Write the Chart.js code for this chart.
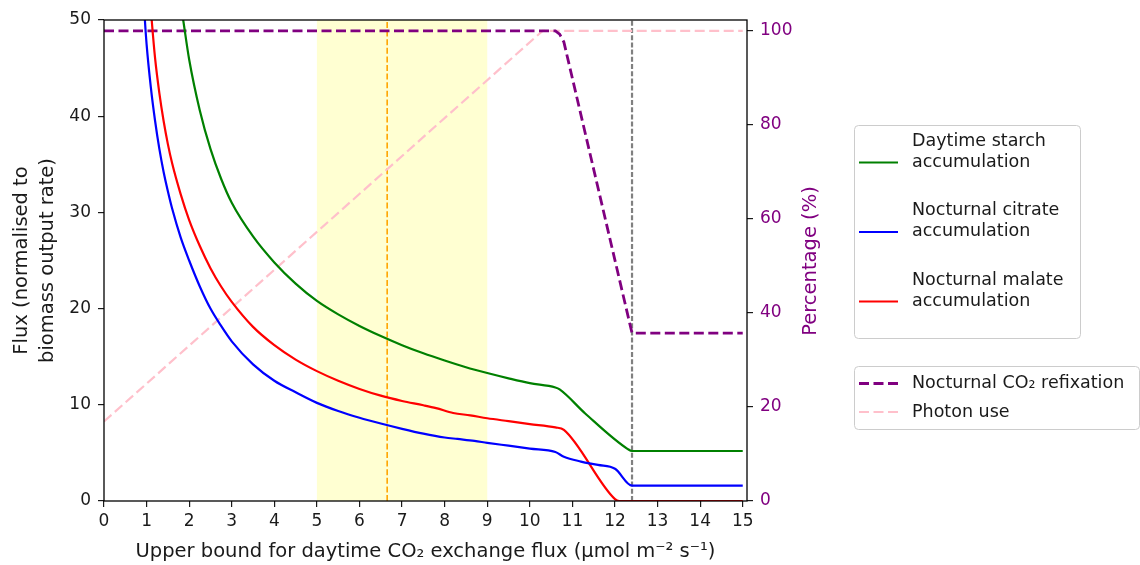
<!DOCTYPE html>
<html>
<head>
<meta charset="utf-8">
<title>CO2 exchange flux bound</title>
<script src="https://cdn.jsdelivr.net/npm/chart.js@4.4.1/dist/chart.umd.min.js"></script>
<style>
  html, body { margin: 0; padding: 0; background: #fff; }
  #wrap { width: 1140px; height: 565px; position: relative; }
</style>
</head>
<body>
<div id="wrap"><canvas id="fluxChart"></canvas></div>
<script>
const FONT = "'DejaVu Sans', sans-serif";
const INK = "#1a1a1a";
const PURPLE = "#800080";

// flux series (left axis), x = upper bound for daytime CO2 exchange
const starchX = [1.75, 1.86, 2.0, 2.25, 2.5, 2.75, 3.0, 3.5, 4.0, 4.5, 5.0, 5.5, 6.0, 6.5, 7.0, 7.5, 8.0, 8.5, 9.0, 9.5, 10.0, 10.6, 10.7, 11.3, 12.3, 12.4, 15];
const starchY = [53.2, 50, 45.9, 40.6, 36.6, 33.5, 31.0, 27.5, 24.8, 22.6, 20.8, 19.4, 18.2, 17.15, 16.2, 15.35, 14.6, 13.9, 13.3, 12.75, 12.25, 11.8, 11.6, 9.1, 5.4, 5.2, 5.2];

const citrateX = [0.9, 0.96, 1.0, 1.1, 1.2, 1.3, 1.4, 1.5, 1.6, 1.8, 2.0, 2.25, 2.5, 2.75, 3.0, 3.5, 4.0, 4.5, 5.0, 5.5, 6.0, 6.5, 7.0, 7.5, 8.0, 8.3, 8.7, 9.0, 9.5, 10.0, 10.6, 10.8, 11.2, 11.6, 12.0, 12.4, 15];
const citrateY = [55, 50, 47.5, 43, 39.5, 36.6, 34.2, 32.2, 30.4, 27.4, 25.0, 22.3, 20.0, 18.2, 16.6, 14.2, 12.5, 11.3, 10.2, 9.35, 8.65, 8.05, 7.5, 7.0, 6.6, 6.45, 6.25, 6.05, 5.75, 5.45, 5.1, 4.6, 4.1, 3.75, 3.35, 1.6, 1.6];

const malateX = [1.0, 1.12, 1.2, 1.3, 1.4, 1.5, 1.6, 1.8, 2.0, 2.25, 2.5, 2.75, 3.0, 3.5, 4.0, 4.5, 5.0, 5.5, 6.0, 6.5, 7.0, 7.5, 7.8, 8.2, 8.6, 9.0, 9.5, 10.0, 10.6, 10.8, 12.0, 12.1, 15];
const malateY = [57, 50, 46.0, 42.4, 39.5, 37.1, 35.1, 31.9, 29.2, 26.5, 24.2, 22.3, 20.7, 18.1, 16.2, 14.7, 13.5, 12.5, 11.65, 10.95, 10.4, 9.95, 9.65, 9.15, 8.9, 8.6, 8.3, 8.0, 7.65, 7.4, 0.2, 0, 0];

// percentage series (right axis)
const refixX = [0, 10.6, 10.7, 10.8, 12.4, 15];
const refixY = [100, 100, 99.3, 97.6, 35.7, 35.7];
const photonX = [0, 10.3, 15];
const photonY = [16.9, 100, 100];

const xTicks = [0, 1, 2, 3, 4, 5, 6, 7, 8, 9, 10, 11, 12, 13, 14, 15];
const fluxTicks = [0, 10, 20, 30, 40, 50];
const pctTicks = [0, 20, 40, 60, 80, 100];

const xRange = [0, 15.1];
const fluxRange = [0, 50];
const pctRange = [0, 102.3];

const shadedBand = [5, 9];
const chosenBound = 6.65;
const limitBound = 12.4;

function pts(xs, ys) {
  return xs.map((x, i) => ({ x: x, y: ys[i] }));
}

function fixedTicks(values) {
  return (scale) => { scale.ticks = values.map((v) => ({ value: v })); };
}

// shaded range and the two vertical markers behind the curves
const markers = {
  id: "markers",
  beforeDatasetsDraw(chart) {
    const { ctx, chartArea: a, scales } = chart;
    const x = scales.x;
    ctx.save();
    ctx.fillStyle = "#ffffd2";
    const b0 = x.getPixelForValue(shadedBand[0]);
    const b1 = x.getPixelForValue(shadedBand[1]);
    ctx.fillRect(b0, a.top, b1 - b0, a.bottom - a.top);

    ctx.lineWidth = 1.6;
    ctx.strokeStyle = "#ffa500";
    ctx.setLineDash([6, 2.6]);
    let px = x.getPixelForValue(chosenBound);
    ctx.beginPath(); ctx.moveTo(px, a.bottom); ctx.lineTo(px, a.top); ctx.stroke();

    ctx.lineWidth = 2.2;
    ctx.strokeStyle = "#808080";
    ctx.setLineDash([5, 2.2]);
    px = x.getPixelForValue(limitBound);
    ctx.beginPath(); ctx.moveTo(px, a.bottom); ctx.lineTo(px, a.top); ctx.stroke();
    ctx.restore();
  },
  afterDatasetsDraw(chart) {
    const { ctx, chartArea: a } = chart;
    ctx.save();
    ctx.strokeStyle = "#000";
    ctx.lineWidth = 1.3;
    ctx.strokeRect(a.left, a.top, a.right - a.left, a.bottom - a.top);
    ctx.restore();
  }
};

// right axis title (reads upwards) and the two legend boxes
const sideText = {
  id: "sideText",
  afterDraw(chart) {
    const ctx = chart.ctx;
    const sets = chart.data.datasets;
    ctx.save();

    ctx.translate(811, 261);
    ctx.rotate(-Math.PI / 2);
    ctx.font = "19.5px " + FONT;
    ctx.fillStyle = PURPLE;
    ctx.textAlign = "center";
    ctx.textBaseline = "middle";
    ctx.fillText("Percentage (%)", 0, 0);
    ctx.setTransform(1, 0, 0, 1, 0, 0);

    const box = (x, y, w, h) => {
      ctx.beginPath();
      ctx.roundRect(x + 0.5, y + 0.5, w, h, 4);
      ctx.fillStyle = "rgba(255,255,255,0.85)";
      ctx.fill();
      ctx.strokeStyle = "#cccccc";
      ctx.lineWidth = 1;
      ctx.setLineDash([]);
      ctx.stroke();
    };
    const handle = (ds, y) => {
      ctx.beginPath();
      ctx.strokeStyle = ds.borderColor;
      ctx.lineWidth = ds.borderWidth;
      ctx.setLineDash(ds.borderDash || []);
      ctx.moveTo(859, y);
      ctx.lineTo(898, y);
      ctx.stroke();
      ctx.setLineDash([]);
    };
    const label = (lines, y, step) => {
      ctx.font = "17.5px " + FONT;
      ctx.fillStyle = INK;
      ctx.textAlign = "left";
      ctx.textBaseline = "middle";
      lines.forEach((t, i) => ctx.fillText(t, 912, y + i * step));
    };

    box(854, 125, 226, 213);
    [0, 1, 2].forEach((k, i) => {
      const top = 141 + i * 69.5;
      handle(sets[k], top + 21.5);
      label(sets[k].label.split("\n"), top, 21);
    });

    box(854, 366, 285, 63);
    [3, 4].forEach((k, i) => {
      const y = 383.5 + i * 28.5;
      handle(sets[k], y);
      label([sets[k].label], y, 0);
    });
    ctx.restore();
  }
};

const datasets = [
  {
    label: "Daytime starch\naccumulation",
    data: pts(starchX, starchY),
    borderColor: "#008000", borderWidth: 2.2,
    cubicInterpolationMode: "monotone", yAxisID: "y"
  },
  {
    label: "Nocturnal citrate\naccumulation",
    data: pts(citrateX, citrateY),
    borderColor: "#0000ff", borderWidth: 2.2,
    cubicInterpolationMode: "monotone", yAxisID: "y"
  },
  {
    label: "Nocturnal malate\naccumulation",
    data: pts(malateX, malateY),
    borderColor: "#ff0000", borderWidth: 2.2,
    cubicInterpolationMode: "monotone", yAxisID: "y"
  },
  {
    label: "Nocturnal CO\u2082 refixation",
    data: pts(refixX, refixY),
    borderColor: PURPLE, borderWidth: 2.8, borderDash: [10, 4.5],
    tension: 0, yAxisID: "y1"
  },
  {
    label: "Photon use",
    data: pts(photonX, photonY),
    borderColor: "#ffc0cb", borderWidth: 2.2, borderDash: [10, 4.5],
    tension: 0, yAxisID: "y1"
  }
];

const tickGrid = {
  display: true, drawOnChartArea: false, drawTicks: true,
  tickLength: 6, color: INK, lineWidth: 1.2
};

new Chart(document.getElementById("fluxChart").getContext("2d"), {
  type: "line",
  data: { datasets: datasets },
  options: {
    responsive: true,
    maintainAspectRatio: false,
    animation: false,
    events: [],
    elements: { point: { radius: 0 } },
    layout: { padding: { top: 20, right: 333, bottom: 0, left: 0 } },
    plugins: {
      legend: { display: false },
      tooltip: { enabled: false }
    },
    scales: {
      x: {
        type: "linear",
        min: xRange[0], max: xRange[1],
        afterBuildTicks: fixedTicks(xTicks),
        afterFit: (s) => { s.height = 64; },
        grid: tickGrid,
        border: { display: false },
        ticks: {
          font: { family: FONT, size: 17 }, color: INK, padding: 4,
          maxRotation: 0, autoSkip: false,
          callback: (v) => String(v)
        },
        title: {
          display: true,
          text: "Upper bound for daytime CO\u2082 exchange flux (\u03bcmol m\u207b\u00b2 s\u207b\u00b9)",
          font: { family: FONT, size: 19.5, lineHeight: 1.2 },
          color: INK, padding: { top: 0, bottom: 1 }
        }
      },
      y: {
        position: "left",
        min: fluxRange[0], max: fluxRange[1],
        afterBuildTicks: fixedTicks(fluxTicks),
        afterFit: (s) => { s.width = 104; },
        grid: tickGrid,
        border: { display: false },
        ticks: {
          font: { family: FONT, size: 17 }, color: INK, padding: 7,
          callback: (v) => String(v)
        },
        title: {
          display: true,
          text: ["Flux (normalised to", "biomass output rate)"],
          font: { family: FONT, size: 19.5, lineHeight: 1.33 },
          color: INK, padding: { top: 9, bottom: 0 }
        }
      },
      y1: {
        position: "right",
        min: pctRange[0], max: pctRange[1],
        afterBuildTicks: fixedTicks(pctTicks),
        afterFit: (s) => { s.width = 60; },
        grid: tickGrid,
        border: { display: false },
        ticks: {
          font: { family: FONT, size: 17 }, color: PURPLE, padding: 7,
          callback: (v) => String(v)
        }
      }
    }
  },
  plugins: [markers, sideText]
});
</script>
</body>
</html>
